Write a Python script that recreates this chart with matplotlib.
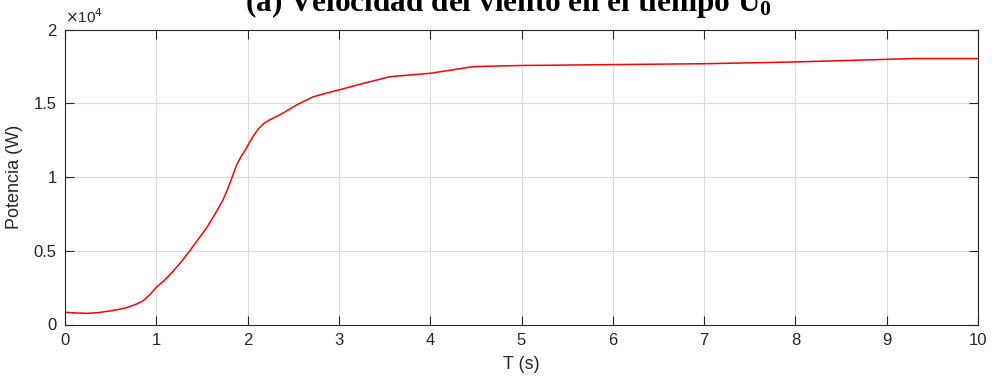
import numpy as np
import matplotlib
matplotlib.use("Agg")
import matplotlib.pyplot as plt
from matplotlib.ticker import FuncFormatter

# generated power vs. time for wind profile U0
t_s = [0.0, 0.12, 0.24, 0.36, 0.49, 0.58, 0.675, 0.77, 0.857, 0.93, 1.0,
       1.09, 1.183, 1.27, 1.365, 1.45, 1.548, 1.64, 1.73, 1.78, 1.826, 1.88,
       1.93, 1.98, 2.026, 2.07, 2.12, 2.18, 2.26, 2.35, 2.45, 2.55, 2.72,
       2.86, 3.0, 3.27, 3.56, 4.0, 4.47, 4.77, 5.0, 6.0, 7.0, 8.0, 9.3, 10.0]
power_w = [827, 780, 759, 800, 915, 1010, 1140, 1350, 1610, 2030, 2520,
           3000, 3600, 4220, 4980, 5700, 6520, 7450, 8440, 9150, 9920, 10820,
           11400, 11880, 12400, 12850, 13280, 13640, 13930, 14200, 14560,
           14930, 15440, 15680, 15900, 16350, 16800, 17030, 17480, 17530,
           17560, 17620, 17680, 17800, 18030, 18030]

x_ticks = list(range(0, 11))
y_ticks = [0, 5000, 10000, 15000, 20000]

plt.rcParams["font.family"] = ["Liberation Sans", "DejaVu Sans"]
plt.rcParams["mathtext.fontset"] = "custom"
plt.rcParams["mathtext.rm"] = "Liberation Serif:bold"
plt.rcParams["mathtext.bf"] = "Liberation Serif:bold"
plt.rcParams["mathtext.default"] = "rm"

INK = "#262626"

fig = plt.figure(figsize=(9.92, 3.78), dpi=100)
ax = fig.add_axes([65 / 992, 1 - 324.5 / 378, (978 - 65) / 992, (324.5 - 29.5) / 378])

ax.plot(t_s, power_w, color="#ff0000", lw=1.1)

ax.set_xlim(0, 10)
ax.set_ylim(0, 20000)
ax.set_xticks(x_ticks)
ax.set_yticks(y_ticks)
ax.yaxis.set_major_formatter(FuncFormatter(lambda v, _: f"{v / 1e4:g}"))
ax.grid(True, color="#dcdcdc", lw=0.8)
ax.set_axisbelow(True)

ax.tick_params(direction="in", length=6.5, width=0.8, colors=INK,
               labelsize=12, top=True, right=True, pad=6)
for sp in ax.spines.values():
    sp.set_color(INK)
    sp.set_linewidth(0.8)

ax.set_xlabel("T (s)", fontsize=13, color=INK, labelpad=6)
ax.set_ylabel("Potencia (W)", fontsize=13, color=INK, labelpad=8)

# exponent marker above the y axis, as in MATLAB
ax.text(0.0, 1.012, r"$\times$10$^4$", transform=ax.transAxes,
        fontsize=11, color=INK, ha="left", va="bottom",
        family=["Liberation Sans", "DejaVu Sans"],
        math_fontfamily="dejavusans")

fig.text(0.513, 1 - 10.5 / 378,
         "(a) Velocidad del viento en el tiempo U$_0$",
         ha="center", va="baseline", fontsize=22.5, fontweight="bold",
         family="Liberation Serif", color="black")

fig.savefig("out.png", dpi=100)
